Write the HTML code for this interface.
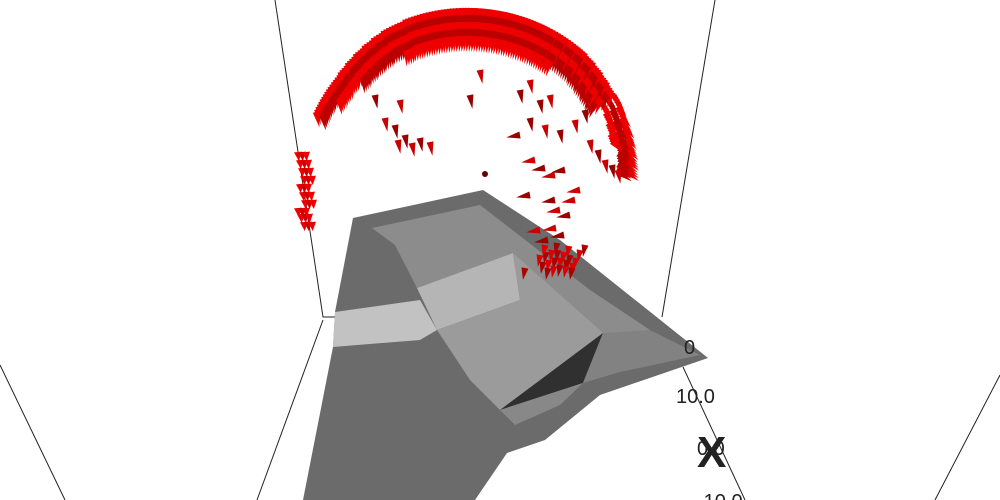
<!DOCTYPE html>
<html><head><meta charset="utf-8"><style>
html,body{margin:0;padding:0;background:#fff;}
svg{display:block;font-family:"Liberation Sans",sans-serif;}
</style></head><body>
<svg width="1000" height="500" viewBox="0 0 1000 500">
<g stroke="#222" stroke-width="1" fill="none">
<polyline points="275,0 323,317 335,317"/>
<line x1="323" y1="320" x2="257" y2="500"/>
<line x1="0" y1="365" x2="65" y2="500"/>
<line x1="715" y1="0" x2="662" y2="317"/>
<line x1="683" y1="367" x2="745" y2="500"/>
<line x1="1000" y1="375" x2="935" y2="500"/>
</g>
<g>
<polygon points="353,218 483,190 560,240 708,358 600,395 545,440 507,453 475,500 303,500 333,347 335,312" fill="#6b6b6b"/>
<polygon points="372,228 480,205 590,290 650,330 600,335 513,253 417,288 395,245" fill="#8c8c8c"/>
<polygon points="335,312 420,300 437,330 420,340 333,347" fill="#c2c2c2"/>
<polygon points="417,288 513,253 520,300 437,330" fill="#b5b5b5"/>
<polygon points="513,253 603,333 583,383 500,410 470,380 437,330 520,300" fill="#9b9b9b"/>
<polygon points="603,333 583,383 500,410" fill="#303030"/>
<polygon points="500,410 583,383 560,405 515,425" fill="#888"/>
<polygon points="603,333 650,330 700,355 620,372 583,383" fill="#828282"/>
</g>
<g id="cones"></g>
<circle cx="485" cy="174" r="3" fill="#600"/>
<g fill="#222">
<text x="684" y="354" font-size="20">0</text>
<text x="676" y="403" font-size="20">10.0</text>
<text x="697" y="455" font-size="20">0.0</text>
<text x="697" y="467" font-size="44" font-weight="bold">X</text>
<text x="697" y="508" font-size="20">-10.0</text>
</g>
</svg>
<script>
const arcAngle=[4,8,12,16,20,24,28,32,36,40,44,48,52,56,60,64,68,72,76,80,84,88,92,96,100,104,108,112,116,120,124,128,132,136,140,144,148,152];
const arcRadius=[158,160,162,164,166,168,170,171,172,173,174,175,175,175,175,175,175,175,175,175,175,175,175,175,175,175,175,174,174,173,172,171,170,169,168,168,168,168];
const arcDepth=[2,2,2,3,3,3,3,4,4,4,4,4,4,5,5,5,5,5,5,5,5,5,5,5,5,5,5,5,4,4,4,4,4,3,3,3,2,2];
const leftX=[298,300,302,304,300,303,305,298,301,304];
const leftY=[152,160,168,176,184,192,200,208,214,222];
const innerX=[398,405,412,420,430,395,385,375,400,470,480,520,530,540,550,530,545,560,575,585,590,598,605,612,618,520,535,545,555,565,580,555,560,570,575,530,540,548,556,564];
const innerY=[140,135,143,138,142,125,118,95,100,95,70,90,80,100,95,118,125,130,120,110,140,150,160,165,170,135,160,168,175,170,190,200,210,215,200,195,230,240,228,235];
const clusterX=[540,546,552,558,564,570,576,543,549,555,561,567,573,548,554,560,566,572,545,557,569,525,580,585];
const clusterY=[255,252,250,250,252,255,258,262,260,258,258,260,263,268,266,265,266,268,245,243,246,268,250,245];
const cx=468,cy=185;
function px(a,r){return cx+r*Math.cos(a*Math.PI/180);}
function py(a,r){return cy-r*Math.sin(a*Math.PI/180);}
const g=document.getElementById('cones');
function cone(x,y,d,len,w,col){
 const t=d*Math.PI/180;
 const tx=x+len*Math.cos(t),ty=y-len*Math.sin(t);
 const nx=-Math.sin(t)*w,ny=-Math.cos(t)*w;
 const p=document.createElementNS('http://www.w3.org/2000/svg','polygon');
 p.setAttribute('points',`${tx},${ty} ${x+nx},${y+ny} ${x-nx},${y-ny}`);
 p.setAttribute('fill',col);
 
 
 g.appendChild(p);
}
arcAngle.forEach((a,i)=>{
 const r=arcRadius[i];
 for(let L=0;L<arcDepth[i];L++){
  for(let k=0;k<4;k++){
   const aa=a+k;const rr=r-L*7;
   cone(px(aa,rr),py(aa,rr)-2,a<30?-30-a:-95+(a-90)*0.3,16,3,L%2?'#b00':'#e00');
  }
 }
});
leftX.forEach((x,i)=>{for(let k=0;k<3;k++)cone(x+k*4,leftY[i],-85,9,4,k%2?'#c00':'#e00');});
innerX.forEach((x,i)=>{cone(x,innerY[i],i>24?190:-80,14,3.5,i%2?'#900':'#c00');});
clusterX.forEach((x,i)=>{cone(x,clusterY[i],-100,12,3.5,i%2?'#a00':'#d00');});
</script>
</body></html>
